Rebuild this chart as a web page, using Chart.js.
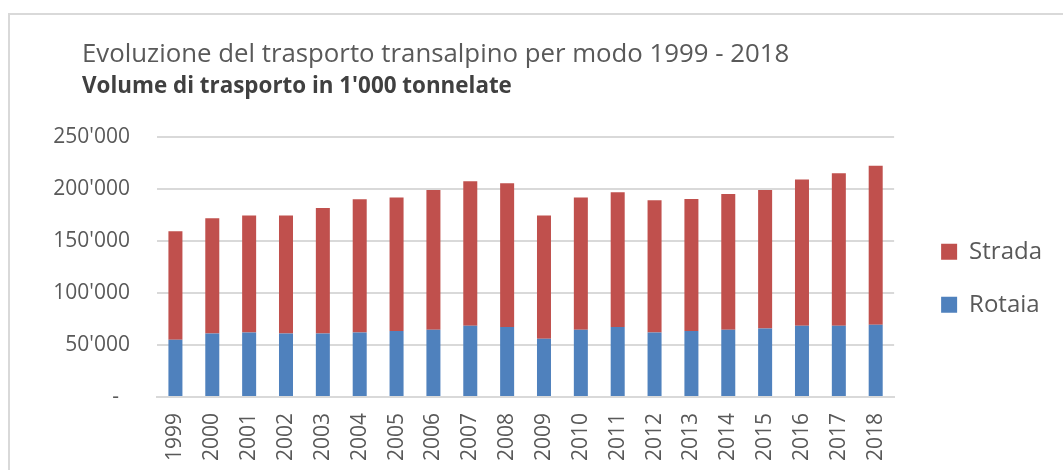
<!DOCTYPE html>
<html>
<head>
<meta charset="utf-8">
<script src="https://cdn.jsdelivr.net/npm/chart.js@4"></script>
<style>
  html, body { margin: 0; padding: 0; background: #fff; overflow: hidden; }
  #frame { position: absolute; left: 8px; top: 13px; width: 1200px; height: 600px; border: 2px solid #d9d9d9; }
  #wrap { position: absolute; left: 0; top: 0; width: 1063px; height: 470px; }
</style>
</head>
<body>
<div id="frame"></div>
<div id="wrap"><canvas id="transportChart" width="1063" height="470"></canvas></div>
<script>
// values, in 1'000 tonnes
const years = ['1999', '2000', '2001', '2002', '2003', '2004', '2005', '2006', '2007', '2008',
               '2009', '2010', '2011', '2012', '2013', '2014', '2015', '2016', '2017', '2018'];
const rotaia = [55100, 61200, 62200, 61200, 61200, 62200, 63500, 64700, 68600, 67300,
                56100, 64700, 67300, 62200, 63500, 64700, 66000, 68600, 68600, 69500];
const strada = [104500, 110900, 112500, 113500, 120800, 128200, 128500, 134700, 139100, 138500,
                118600, 127300, 129800, 127200, 127200, 130800, 133400, 140700, 146800, 153200];
const yTicks = [0, 50000, 100000, 150000, 200000, 250000];

const grey = '#595959';
const font = 'Open Sans';

function fmt(v) {
    if (v === 0) return '-  ';
    return String(v).replace(/\B(?=(\d{3})+(?!\d))/g, "'");
}

// titles start further right than the y labels; legend sits a bit right/down
const nudge = {
    id: 'nudge',
    afterLayout(chart) {
        chart.boxes.filter(b => b.position === 'top').forEach(b => { b.left += 32; });
        const l = chart.legend;
        l.left += 18; l.right += 18;
        l.top += 11; l.bottom += 11;
    }
};

document.addEventListener('DOMContentLoaded', () => {
    const ctx = document.getElementById('transportChart');
    new Chart(ctx, {
        type: 'bar',
        data: {
            labels: years,
            datasets: [
                { label: 'Rotaia', data: rotaia, backgroundColor: '#4f81bd' },
                { label: 'Strada', data: strada, backgroundColor: '#c0504d' }
            ]
        },
        options: {
            responsive: false,
            animation: false,
            barPercentage: 0.38,
            categoryPercentage: 1,
            layout: { padding: { left: 50, right: 29, top: 0, bottom: 0 } },
            scales: {
                x: {
                    stacked: true,
                    afterFit: s => { s.height = 73; },
                    grid: { display: false, drawTicks: false },
                    border: { color: '#d9d9d9', width: 2 },
                    ticks: {
                        minRotation: 90, maxRotation: 90, padding: 16,
                        color: grey, font: { family: font, size: 21 }
                    }
                },
                y: {
                    stacked: true,
                    min: 0, max: 250000,
                    afterFit: s => { s.width = 107; },
                    afterBuildTicks: s => { s.ticks = yTicks.map(v => ({ value: v })); },
                    grid: { color: '#d9d9d9', lineWidth: 2, drawTicks: false },
                    border: { display: false },
                    ticks: {
                        padding: 27, color: grey,
                        font: { family: font, size: 21 },
                        callback: v => fmt(v)
                    }
                }
            },
            plugins: {
                title: {
                    display: true, align: 'start',
                    text: 'Evoluzione del trasporto transalpino per modo 1999 - 2018',
                    color: grey, font: { family: font, size: 25.8, weight: 'normal' },
                    padding: { top: 39, bottom: 0 }
                },
                subtitle: {
                    display: true, align: 'start',
                    text: "Volume di trasporto in 1'000 tonnelate",
                    color: '#404040', font: { family: font, size: 22.4, weight: 'bold' },
                    padding: { top: 3, bottom: 37.5 }
                },
                legend: {
                    position: 'right', fullSize: false, reverse: true,
                    labels: {
                        boxWidth: 16, boxHeight: 16, padding: 29,
                        color: grey, font: { family: font, size: 24 }
                    }
                },
                tooltip: { enabled: false }
            }
        },
        plugins: [nudge]
    });
});
</script>
</body>
</html>
